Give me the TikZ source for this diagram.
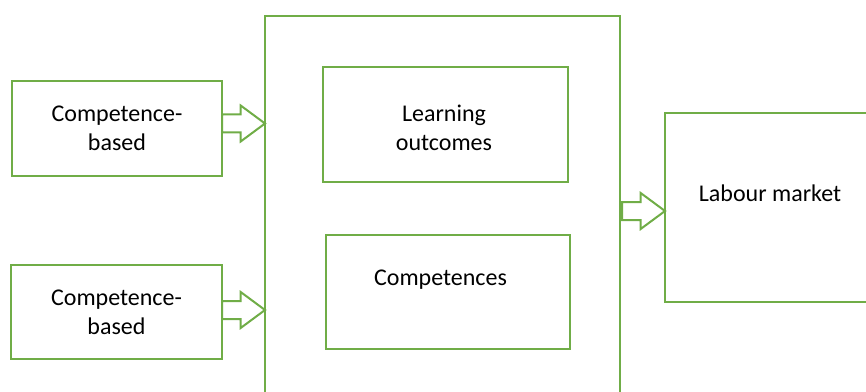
\documentclass[tikz,border=0pt]{standalone}
\usepackage{fontspec}
\setmainfont{Carlito}
\usetikzlibrary{positioning,shapes.arrows}

\definecolor{offgreen}{HTML}{70AD47}

\begin{document}
\begin{tikzpicture}[x=0.75pt,y=-0.75pt,
		box/.style={draw=offgreen, line width=1.5pt, outer sep=0pt, inner sep=0pt, align=center, font=\fontsize{18}{21.75}\selectfont},
		txt/.style={inner sep=0pt, align=center, font=\fontsize{18}{21.75}\selectfont},
		blockarrow/.style={single arrow, draw=offgreen, line width=1.5pt, fill=white, inner xsep=0pt, inner ysep=6pt, minimum height=32.25pt, single arrow head extend=6.75pt, single arrow tip angle=73, outer sep=0pt}]
		\useasboundingbox (0,0) rectangle (866,392);
		\clip (0,0) rectangle (866,392);
		%\fill[lightgray] (0,0) rectangle (866,392);
		\node[box, minimum width=157.5pt, minimum height=71.6pt] (cb1) at (117,128.25) {Competence-\\based};
		\node[box, minimum width=158.25pt, minimum height=70.5pt] (cb2) at (116.5,312) {Competence-\\based};
		\node[box, minimum width=266.25pt, minimum height=303pt] (prog) at (442.5,218) {};
		\node[box, minimum width=183.75pt, minimum height=86.6pt] (lo) at (445.5,124.25) {};
		\node[txt, anchor=base] (lotxt) at (444,150.7) {Learning\\outcomes};
		\node[box, minimum width=183pt, minimum height=85.5pt] (comp) at (448,291.5) {};
		\node[txt, anchor=base] (comptxt) at (440.5,285.7) {Competences};
		\node[box, minimum width=157.5pt, minimum height=141.75pt] (lm) at (770,207.5) {};
		\node[txt, anchor=base] (lmtxt) at (770,201.7) {Labour market};
		
		\path (cb1.east) ++(0,-4.75) node[blockarrow, anchor=tail] (a1) {};
		\path (cb2.east) ++(0,-2) node[blockarrow, anchor=tail] (a2) {};
		\path (lm.west) ++(-43,3.5) node[blockarrow, anchor=tail] (a3) {};
	\end{tikzpicture}
\end{document}
